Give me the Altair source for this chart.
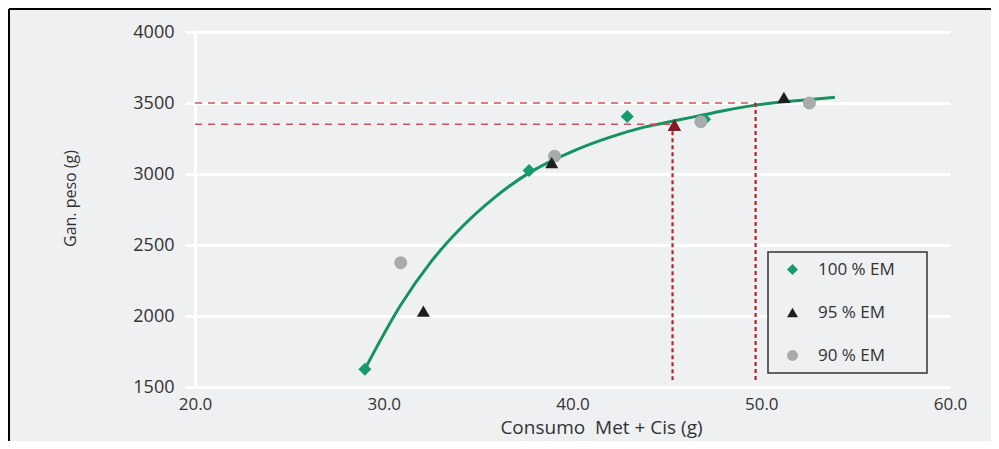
import altair as alt
import pandas as pd

# ---------------- data ----------------
x_ticks = [20, 30, 40, 50, 60]
y_ticks = [1500, 2000, 2500, 3000, 3500, 4000]

series = ["100 % EM", "95 % EM", "90 % EM"]
em100_x = [29.0, 37.7, 42.9, 47.0]
em100_y = [1625, 3025, 3405, 3385]
em95_x = [32.1, 38.9, 45.4, 51.2]
em95_y = [2035, 3080, 3345, 3540]
em90_x = [30.9, 39.05, 46.8, 52.55]
em90_y = [2375, 3125, 3368, 3500]

highlight_x = [45.4]
highlight_y = [3345]

curve_x = [29.0, 30.9, 32.5, 34.1, 35.9, 37.7, 40.0, 42.0, 43.8, 45.4, 46.9, 48.0, 49.7, 52.0, 53.9]
curve_y = [1625, 2077, 2381, 2621, 2837, 3008, 3160, 3260, 3330, 3375, 3415, 3445, 3485, 3518, 3540]

h_y = [3500, 3350]
h_x_end = [49.7, 45.3]
v_x = [45.3, 49.7]
v_y_top = [3350, 3500]
v_y_bottom = [1550, 1550]

# ---------------- frames ----------------
pts = pd.DataFrame({
    "x": em100_x + em95_x + em90_x,
    "y": em100_y + em95_y + em90_y,
    "serie": [series[0]] * len(em100_x) + [series[1]] * len(em95_x) + [series[2]] * len(em90_x),
})
hl = pd.DataFrame({"x": highlight_x, "y": highlight_y})
curve = pd.DataFrame({"x": curve_x, "y": curve_y})
hdf = pd.DataFrame({"y": h_y, "x": [20] * len(h_y), "x2": h_x_end})
vdf = pd.DataFrame({"x": v_x, "y": v_y_top, "y2": v_y_bottom})
one = pd.DataFrame({"a": [0]})

W, H = 755, 355
FONT = "Open Sans"
BG = "#eef0f1"

xs = alt.Scale(domain=[20, 60], nice=False, zero=False)
ys = alt.Scale(domain=[1500, 4000], nice=False, zero=False)

x_axis = alt.Axis(values=x_ticks, format=".1f", grid=False, domain=False, ticks=False,
                  labelFlush=False, labelBound=False,
                  labelPadding=9, labelFontSize=17, labelColor="#333333", labelFont=FONT,
                  title="Consumo\u00a0 Met + Cis (g)", titleFont=FONT, titleFontSize=19,
                  titleFontWeight="normal", titleColor="#333333", titleX=406, titleY=46,
                  titleBaseline="alphabetic", titleAnchor="start", titleAlign="center")
y_axis = alt.Axis(values=y_ticks, format="d", grid=True, gridColor="white", gridWidth=3,
                  domain=True, domainColor="white", domainWidth=3,
                  ticks=True, tickColor="white", tickWidth=3, tickSize=10,
                  labelPadding=11, labelFontSize=18, labelColor="#333333", labelFont=FONT,
                  title="Gan. peso (g)", titleFont=FONT, titleFontSize=16,
                  titleFontWeight="normal", titleColor="#333333", titleX=-125, titleY=166,
                  titleAngle=-90, titleBaseline="middle", titleAlign="center")

base_axes = alt.Chart(curve).mark_line(opacity=0).encode(
    x=alt.X("x:Q", scale=xs, axis=x_axis),
    y=alt.Y("y:Q", scale=ys, axis=y_axis),
)

line = alt.Chart(curve).mark_line(color="#14935f", strokeWidth=3, interpolate="monotone").encode(
    x=alt.X("x:Q", scale=xs), y=alt.Y("y:Q", scale=ys))

hrules = alt.Chart(hdf).mark_rule(color="#d4505c", strokeWidth=1.6, strokeDash=[7, 6]).encode(
    x=alt.X("x:Q", scale=xs), x2="x2:Q", y=alt.Y("y:Q", scale=ys))
vrules = alt.Chart(vdf).mark_rule(color="#b8232b", strokeWidth=2.2, strokeDash=[4, 3]).encode(
    x=alt.X("x:Q", scale=xs), y=alt.Y("y:Q", scale=ys), y2="y2:Q")

legend_box = alt.Chart(one).mark_rect(fill=BG, stroke="#333333", strokeWidth=1.5).encode(
    x=alt.value(573), x2=alt.value(732), y=alt.value(220), y2=alt.value(341))

scatter = alt.Chart(pts).mark_point(filled=True, opacity=1, size=170).encode(
    x=alt.X("x:Q", scale=xs),
    y=alt.Y("y:Q", scale=ys),
    color=alt.Color("serie:N", scale=alt.Scale(domain=series, range=["#169c6b", "#1e1e1e", "#a9aaac"]),
                    legend=alt.Legend(title=None, orient="none", legendX=589, legendY=229,
                                      padding=0, rowPadding=25, labelOffset=17,
                                      labelFontSize=17, labelColor="#333333", labelFont=FONT,
                                      symbolSize=120, symbolStrokeWidth=0)),
    shape=alt.Shape("serie:N", scale=alt.Scale(domain=series, range=["diamond", "triangle-up", "circle"])),
    order=alt.Order("serie:N"),
)

highlight = alt.Chart(hl).mark_point(filled=True, opacity=1, size=170, shape="triangle-up",
                                      color="#8a1a23").encode(
    x=alt.X("x:Q", scale=xs), y=alt.Y("y:Q", scale=ys))

border_top = alt.Chart(one).mark_rule(color="black", strokeWidth=2).encode(
    x=alt.value(-186), x2=alt.value(W + 41), y=alt.value(-23))
border_left = alt.Chart(one).mark_rule(color="black", strokeWidth=2).encode(
    x=alt.value(-186), y=alt.value(-23), y2=alt.value(H + 54))

chart = alt.layer(base_axes, legend_box, line, hrules, vrules, scatter, highlight,
                  border_top, border_left).properties(
    width=W, height=H,
    autosize=alt.AutoSizeParams(type="none"),
    padding={"left": 187, "top": 24, "right": 41, "bottom": 54},
    background=BG,
).configure_view(stroke=None)

chart.save("out.html", embed_options={"renderer": "svg", "actions": False})
